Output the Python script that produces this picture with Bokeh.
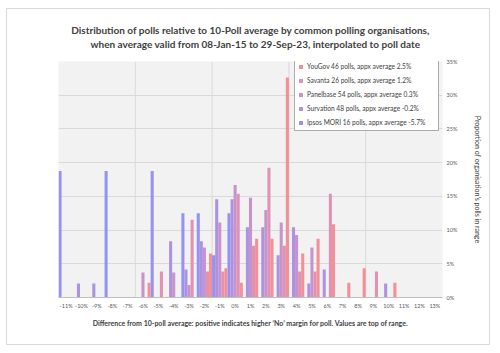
from bokeh.plotting import figure
from bokeh.models import (FactorRange, Range1d, ColumnDataSource, Legend, LegendItem,
                          Span, FixedTicker, CustomJSTickFormatter)
from bokeh.transform import dodge
from bokeh.embed import file_html
from bokeh.resources import INLINE

categories = ["-11%", "-10%", "-9%", "-8%", "-7%", "-6%", "-5%", "-4%", "-3%", "-2%", "-1%",
              "0%", "1%", "2%", "3%", "4%", "5%", "6%", "7%", "8%", "9%", "10%", "11%", "12%", "13%"]

ipsos_mori = [18.75, 0, 0, 18.75, 0, 0, 18.75, 0, 12.5, 12.5, 6.25, 12.5, 0,
              0, 0, 0, 0, 0, 0, 0, 0, 0, 0, 0, 0]
survation = [0, 2.08, 2.08, 0, 0, 0, 0, 8.33, 4.17, 8.33, 14.58, 14.58, 10.42,
             10.42, 6.25, 10.42, 2.08, 4.17, 0, 0, 0, 2.08, 0, 0, 0]
panelbase = [0, 0, 0, 0, 0, 3.7, 0, 3.7, 1.85, 7.41, 11.11, 16.67, 14.81,
             12.96, 11.11, 9.26, 7.41, 0, 0, 0, 0, 0, 0, 0, 0]
savanta = [0, 0, 0, 0, 0, 0, 3.85, 0, 11.54, 3.85, 3.85, 15.38, 7.69,
           19.23, 7.69, 3.85, 3.85, 15.38, 0, 0, 3.85, 0, 0, 0, 0]
yougov = [0, 0, 0, 0, 0, 2.17, 0, 0, 0, 6.52, 4.35, 2.17, 8.7,
          8.7, 32.61, 6.52, 8.7, 10.87, 2.17, 4.35, 0, 2.17, 0, 0, 0]

y_ticks = [0, 5, 10, 15, 20, 25, 30, 35]

series_keys = ["ipsos", "survation", "panelbase", "savanta", "yougov"]
series_labels = {
    "yougov": "YouGov 46 polls, appx average 2.5%",
    "savanta": "Savanta 26 polls, appx average 1.2%",
    "panelbase": "Panelbase 54 polls, appx average 0.3%",
    "survation": "Survation 48 polls, appx average -0.2%",
    "ipsos": "Ipsos MORI 16 polls, appx average -5.7%",
}
colors = {
    "ipsos": "#9592f2",
    "survation": "#ab92e2",
    "panelbase": "#c693cb",
    "savanta": "#e092b4",
    "yougov": "#f38f95",
}

source = ColumnDataSource(dict(x=categories, ipsos=ipsos_mori, survation=survation,
                               panelbase=panelbase, savanta=savanta, yougov=yougov))

FONT = "Lato"
TITLE_1 = "Distribution of polls relative to 10-Poll average by common polling organisations,"
TITLE_2 = "when average valid from 08-Jan-15 to 29-Sep-23, interpolated to poll date"
# the title box aligns its lines left; non-breaking spaces centre the shorter second line
TITLE = TITLE_1 + "\n" + "\u00a0" * 8 + TITLE_2

p = figure(width=484, height=337, x_range=FactorRange(factors=categories, range_padding=0),
           y_range=Range1d(0, 35), y_axis_location="right",
           output_backend="svg", toolbar_location=None, title=TITLE,
           min_border_left=51, min_border_right=49, min_border_top=52, min_border_bottom=49)
p.styles = {"border": "1px solid #d9d9d9", "margin-left": "6px", "margin-top": "8px"}

p.background_fill_color = "#f2f2f2"
p.border_fill_color = "white"
p.outline_line_color = None

bar_w = 0.2
renderers = {}
for j, key in enumerate(series_keys):
    r = p.vbar(x=dodge("x", -0.4 + bar_w * j, range=p.x_range), top=key, width=bar_w,
               source=source, fill_color=colors[key], line_color=None)
    renderers[key] = r

# grid
p.xgrid.grid_line_color = None
p.ygrid.grid_line_color = "#d9d9d9"
p.ygrid.ticker = FixedTicker(ticks=y_ticks)
for loc in [5, 10, 15, 20]:
    p.add_layout(Span(location=loc, dimension="height", line_color="#d9d9d9", line_width=1,
                      level="underlay"))

# y axis
p.yaxis.ticker = FixedTicker(ticks=y_ticks)
p.yaxis.formatter = CustomJSTickFormatter(code="return tick + '%';")
p.yaxis.axis_line_color = None
p.yaxis.major_tick_line_color = None
p.yaxis.major_tick_out = 0
p.yaxis.major_tick_in = 0
p.yaxis.minor_tick_line_color = None
p.yaxis.major_label_text_font = FONT
p.yaxis.major_label_text_font_size = "5.5px"
p.yaxis.major_label_text_color = "#595959"
p.yaxis.major_label_standoff = 4
p.yaxis.axis_label = "Proportion of organisation\u2019s polls in range"
p.yaxis.axis_label_text_font = FONT
p.yaxis.axis_label_text_font_size = "7px"
p.yaxis.axis_label_text_font_style = "normal"
p.yaxis.axis_label_text_color = "#404040"
p.yaxis.axis_label_standoff = 14

# x axis
p.xaxis.axis_line_color = "#bfbfbf"
p.xaxis.major_tick_line_color = None
p.xaxis.major_tick_out = 0
p.xaxis.major_tick_in = 0
p.xaxis.minor_tick_line_color = None
p.xaxis.major_label_text_font = FONT
p.xaxis.major_label_text_font_size = "5.5px"
p.xaxis.major_label_text_color = "#595959"
p.xaxis.major_label_standoff = 5
p.xaxis.axis_label = ("Difference from 10-poll average: positive indicates higher \u2018No\u2019 "
                      "margin for poll. Values are top of range.")
p.xaxis.axis_label_text_font = FONT
p.xaxis.axis_label_text_font_size = "7px"
p.xaxis.axis_label_text_font_style = "bold"
p.xaxis.axis_label_text_color = "#404040"
p.xaxis.axis_label_standoff = 7

# title
p.title.align = "center"
p.title.text_font = FONT
p.title.text_font_size = "10px"
p.title.text_font_style = "bold"
p.title.text_color = "#404040"
p.title.text_line_height = 1.2
p.title.standoff = 23

# legend
legend_order = ["yougov", "savanta", "panelbase", "survation", "ipsos"]
items = [LegendItem(label=series_labels[k], renderers=[renderers[k]]) for k in legend_order]
legend = Legend(items=items, location=(236, 166))
legend.label_text_font = FONT
legend.label_text_font_size = "6.6px"
legend.label_text_color = "#404040"
legend.label_height = 10
legend.label_width = 128
legend.glyph_height = 5
legend.glyph_width = 5
legend.label_standoff = 4
legend.spacing = 4
legend.padding = 3
legend.margin = 0
legend.border_line_color = "#595959"
legend.border_line_width = 1
legend.background_fill_color = "white"
legend.background_fill_alpha = 1
p.add_layout(legend, "center")

open("out.html", "w").write(file_html(p, INLINE))
